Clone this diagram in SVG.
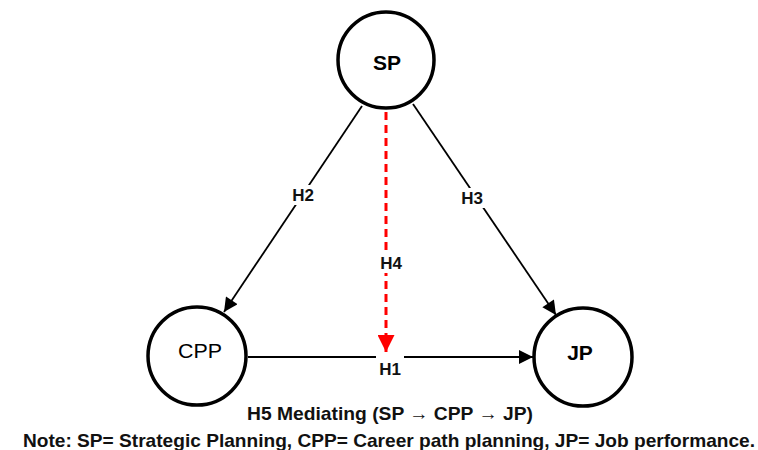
<svg xmlns="http://www.w3.org/2000/svg" width="758" height="450" viewBox="0 0 758 450">
<style>
.node{fill:#fff;stroke:#000;stroke-width:3.5}
.nl{font-family:"Liberation Sans",Arial,sans-serif;font-size:21px;text-anchor:middle;dominant-baseline:central;fill:#000}
.el{font-family:"Liberation Sans",Arial,sans-serif;font-size:17px;font-weight:bold;text-anchor:middle;dominant-baseline:central;fill:#111}
.edge{stroke:#000;stroke-width:1.8;fill:none}
.txt{font-family:"Liberation Sans",Arial,sans-serif;font-size:19px;font-weight:bold;fill:#111}
</style>
<defs>
<marker id="ahb" viewBox="0 0 10 10" refX="10" refY="5" markerWidth="17" markerHeight="14" markerUnits="userSpaceOnUse" orient="auto">
<path d="M0,0 L10,5 L0,10 z" fill="#000"/>
</marker>
<marker id="ahr" viewBox="0 0 10 10" refX="10" refY="5" markerWidth="19" markerHeight="17" markerUnits="userSpaceOnUse" orient="auto">
<path d="M0,0 L10,5 L0,10 z" fill="#f00"/>
</marker>
</defs>
<g id="connectors">
<line class="edge" x1="362" y1="106" x2="224" y2="312" marker-end="url(#ahb)"/>
<rect x="288" y="185" width="30" height="20" fill="#fff"/>
<text class="el" x="303" y="195">H2</text>
<line class="edge" x1="413" y1="104" x2="556" y2="315" marker-end="url(#ahb)"/>
<rect x="457" y="188" width="30" height="20" fill="#fff"/>
<text class="el" x="472" y="198">H3</text>
<line class="edge" x1="248" y1="357" x2="533" y2="357" marker-end="url(#ahb)"/>
<rect x="376" y="350" width="28" height="20" fill="#fff"/>
<text class="el" x="390" y="369">H1</text>
<line x1="386" y1="112" x2="386" y2="352" stroke="#f00" stroke-width="3" stroke-dasharray="8,5" marker-end="url(#ahr)"/>
<rect x="377" y="253" width="28" height="20" fill="#fff"/>
<text class="el" x="391" y="263">H4</text>
</g>
<g id="SP">
<circle class="node" cx="386" cy="60" r="48"/>
<text class="nl" x="387" y="62" font-weight="bold">SP</text>
</g>
<g id="CPP">
<circle class="node" cx="197" cy="356" r="49"/>
<text class="nl" x="200" y="350" textLength="44" lengthAdjust="spacingAndGlyphs">CPP</text>
</g>
<g id="JP">
<circle class="node" cx="583" cy="357" r="49"/>
<text class="nl" x="580" y="352" font-weight="bold">JP</text>
</g>
<text class="txt" x="390" y="420" text-anchor="middle" textLength="286" lengthAdjust="spacingAndGlyphs">H5 Mediating  (SP → CPP → JP)</text>
<text class="txt" x="389" y="447" text-anchor="middle" textLength="732" lengthAdjust="spacingAndGlyphs">Note: SP= Strategic Planning, CPP= Career path planning, JP= Job performance.</text>
</svg>
